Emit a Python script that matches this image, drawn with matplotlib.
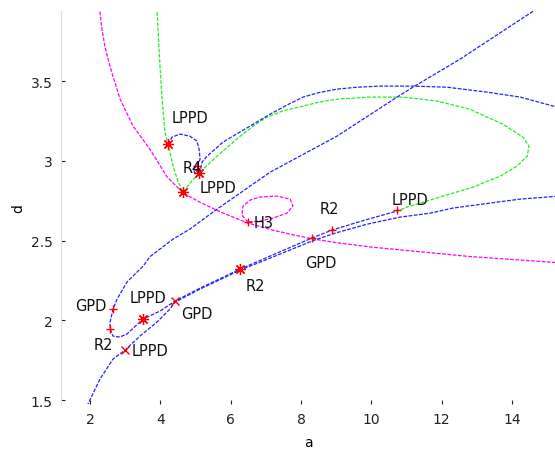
import numpy as np
import matplotlib
matplotlib.use("Agg")
import matplotlib.pyplot as plt

# curves (a, d)
mag_a = [2.20, 2.28, 2.33, 2.42, 2.57, 2.85, 3.22, 3.71, 4.19, 4.64, 5.13, 5.70, 6.49, 7.12, 7.69, 8.34, 8.91, 9.96, 11.38, 12.80, 15.40]
mag_d = [4.00, 3.94, 3.84, 3.72, 3.59, 3.39, 3.22, 3.07, 2.90, 2.80, 2.74, 2.68, 2.61, 2.57, 2.54, 2.51, 2.49, 2.46, 2.43, 2.40, 2.36]

loop_a = [6.49, 6.32, 6.35, 6.55, 6.83, 7.32, 7.69, 7.77, 7.60, 7.20, 6.83, 6.49]
loop_d = [2.616, 2.66, 2.716, 2.754, 2.773, 2.779, 2.76, 2.716, 2.672, 2.641, 2.622, 2.616]

grn_a = [3.90, 3.905, 3.99, 4.05, 4.13, 4.218, 4.36, 4.50, 4.644, 4.87, 5.10, 5.61, 6.27, 6.65, 7.03, 7.50, 8.06, 8.50, 9.02,
         9.96, 10.90, 11.87, 12.80, 13.74, 14.31, 14.48, 14.43, 14.14, 13.66, 12.89, 11.95, 11.01, 10.73]
grn_d = [4.00, 3.939, 3.594, 3.387, 3.18, 3.105, 2.967, 2.873, 2.804, 2.867, 2.923, 3.03, 3.155, 3.22, 3.274, 3.315, 3.343, 3.368, 3.387,
         3.40, 3.40, 3.375, 3.324, 3.23, 3.149, 3.092, 3.03, 2.967, 2.904, 2.835, 2.773, 2.71, 2.685]

b1_a = [4.218, 4.33, 4.56, 4.84, 5.04, 5.10, 5.13, 5.04, 4.93, 4.985, 5.13, 5.185, 5.33, 5.78, 6.55, 7.12, 7.60,
        8.06, 8.50, 9.02, 9.60, 10.25, 11.18, 12.15, 13.29, 14.23, 15.40]
b1_d = [3.105, 3.149, 3.168, 3.155, 3.124, 3.074, 3.011, 2.967, 2.948, 2.923, 2.936, 2.992, 3.03, 3.118, 3.218, 3.293, 3.35,
        3.40, 3.428, 3.45, 3.462, 3.469, 3.469, 3.462, 3.431, 3.40, 3.33]

b2_a = [14.70, 14.60, 12.52, 11.18, 10.73, 9.02, 7.12, 5.61, 4.84, 4.36, 3.71, 3.51, 3.05, 2.77, 2.654, 2.57, 2.57,
        2.654, 2.85, 3.05, 3.51, 3.99, 4.42, 5.13, 6.27, 7.12, 8.31, 8.88, 9.82, 10.73]
b2_d = [4.00, 3.939, 3.638, 3.462, 3.40, 3.155, 2.929, 2.697, 2.572, 2.509, 2.40, 2.34, 2.24, 2.133, 2.07, 1.989, 1.945,
        1.901, 1.895, 1.914, 2.008, 2.058, 2.121, 2.202, 2.321, 2.403, 2.516, 2.566, 2.629, 2.685]

b3_a = [1.86, 1.943, 2.284, 2.654, 2.995, 3.42, 3.905, 4.27, 4.42, 5.13, 6.27, 7.12, 8.31, 8.97, 9.88, 10.81,
        11.67, 12.32, 13.57, 14.23, 15.40]
b3_d = [1.43, 1.475, 1.632, 1.757, 1.813, 1.901, 1.989, 2.07, 2.114, 2.196, 2.315, 2.39, 2.497, 2.547, 2.603, 2.647,
        2.672, 2.704, 2.741, 2.76, 2.78]

# special points
pt_a = [4.218, 4.644, 5.10, 5.04, 6.49, 8.88, 8.31, 10.73, 6.27, 4.42, 3.51, 2.654, 2.57, 2.995]
pt_d = [3.105, 2.804, 2.923, 2.967, 2.616, 2.566, 2.516, 2.69, 2.321, 2.121, 2.008, 2.07, 1.945, 1.813]
pt_mk = ["*", "*", "*", "+", "+", "+", "+", "+", "*", "x", "*", "+", "+", "x"]

lab_txt = ["LPPD", "R4", "LPPD", "H3", "R2", "GPD", "LPPD", "R2", "GPD", "LPPD", "GPD", "R2", "LPPD"]
lab_a = [4.33, 4.63, 5.13, 6.66, 8.52, 8.11, 10.57, 6.43, 4.60, 3.13, 1.59, 2.11, 3.19]
lab_d = [3.27, 2.96, 2.83, 2.615, 2.70, 2.36, 2.76, 2.22, 2.04, 2.14, 2.09, 1.85, 1.81]

fig = plt.figure(figsize=(5.55, 4.52), dpi=100)
ax = fig.add_axes([61/555, 47/452, 494/555, 393/452])

ls = (0, (3, 1.2))
ax.plot(mag_a, mag_d, color="#ff00ff", lw=0.9, ls=ls)
ax.plot(loop_a, loop_d, color="#ff00ff", lw=0.9, ls=ls)
ax.plot(grn_a, grn_d, color="#22ee22", lw=0.9, ls=ls)
ax.plot(b1_a, b1_d, color="#2222ff", lw=0.9, ls=ls)
ax.plot(b2_a, b2_d, color="#2222ff", lw=0.9, ls=ls)
ax.plot(b3_a, b3_d, color="#2222ff", lw=0.9, ls=ls)

for a, d, m in zip(pt_a, pt_d, pt_mk):
    if m == "*":
        ax.plot(a, d, marker=(8, 2, 0), color="red", ms=8, mew=0.9)
    else:
        ax.plot(a, d, m, color="red", ms=6, mew=1.0)

for t, a, d in zip(lab_txt, lab_a, lab_d):
    ax.text(a, d, t, fontsize=10.5, ha="left", va="center", color="#111111")

ax.set_xlim(1.175, 15.22)
ax.set_ylim(1.475, 3.94)
ax.set_xticks([2, 4, 6, 8, 10, 12, 14])
ax.set_yticks([1.5, 2, 2.5, 3, 3.5])
ax.set_yticklabels(["1.5", "2", "2.5", "3", "3.5"])
ax.tick_params(direction="in", length=3, colors="#222222", labelsize=10, pad=6)
for s in ["top", "right", "bottom"]:
    ax.spines[s].set_visible(False)
ax.spines["left"].set_color("#dddddd")
ax.set_xlabel("a", fontsize=10, labelpad=6)
ax.set_ylabel("d", fontsize=10, labelpad=4)

fig.savefig("out.png", dpi=100)
